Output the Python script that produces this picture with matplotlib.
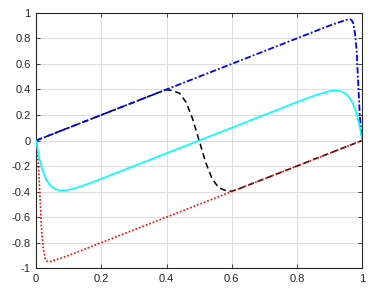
import matplotlib
matplotlib.use('Agg')
import matplotlib.pyplot as plt
from matplotlib.ticker import FuncFormatter

# curve data
blue_x = [0, 0.5, 0.9, 0.94, 0.955, 0.963, 0.968, 0.973, 0.978, 0.983, 0.988, 0.993, 0.997, 1.0]
blue_y = [0, 0.5, 0.9, 0.935, 0.947, 0.95, 0.942, 0.917, 0.84, 0.708, 0.447, 0.186, 0.07, 0]

red_x = [0, 0.003, 0.007, 0.012, 0.017, 0.022, 0.027, 0.032, 0.037, 0.045, 0.06, 0.1, 0.5, 1.0]
red_y = [0, -0.07, -0.186, -0.447, -0.708, -0.84, -0.917, -0.942, -0.95, -0.947, -0.935, -0.9, -0.5, 0]

black_x = [0, 0.38, 0.40, 0.42, 0.44, 0.46, 0.48, 0.5, 0.52, 0.54, 0.56, 0.58, 0.60, 0.62, 1.0]
black_y = [0, 0.38, 0.398, 0.39, 0.37, 0.30, 0.17, 0, -0.17, -0.30, -0.37, -0.39, -0.398, -0.38, 0]

cyan_x = [0, 0.005, 0.01, 0.02, 0.03, 0.04, 0.05, 0.06, 0.07, 0.08, 0.09, 0.10, 0.12, 0.14, 0.17,
          0.2, 0.5, 0.8, 0.83, 0.86, 0.88, 0.90, 0.91, 0.92, 0.93, 0.94, 0.95, 0.96, 0.97, 0.98,
          0.99, 0.995, 1.0]
cyan_y = [0, -0.077, -0.140, -0.235, -0.299, -0.340, -0.366, -0.381, -0.389, -0.391, -0.390, -0.386,
          -0.373, -0.357, -0.329, -0.300, 0, 0.300, 0.329, 0.357, 0.373, 0.386, 0.390, 0.391, 0.389,
          0.381, 0.366, 0.340, 0.299, 0.235, 0.140, 0.077, 0]

x_ticks = [0, 0.2, 0.4, 0.6, 0.8, 1]
y_ticks = [-1, -0.8, -0.6, -0.4, -0.2, 0, 0.2, 0.4, 0.6, 0.8, 1]

plt.rcParams['font.family'] = ['Liberation Sans', 'DejaVu Sans']
plt.rcParams['axes.unicode_minus'] = False

fig = plt.figure(figsize=(3.8, 2.98), dpi=100)
ax = fig.add_axes([0.095, 0.1, 0.858, 0.857])

ax.plot(black_x, black_y, color='black', linestyle=(0, (4, 2.5)), linewidth=1.1, zorder=2)
ax.plot(blue_x, blue_y, color='blue', linestyle=(0, (3.5, 1.2, 1, 1.2)), linewidth=1.3, zorder=3)
ax.plot(red_x, red_y, color='red', linestyle=(0, (1, 1.2)), linewidth=1.2, zorder=3)
ax.plot(cyan_x, cyan_y, color='cyan', linestyle='-', linewidth=1.2, zorder=4)

ax.set_xlim(0, 1)
ax.set_ylim(-1, 1)
ax.set_xticks(x_ticks)
ax.set_yticks(y_ticks)
fmt = FuncFormatter(lambda v, p: '%g' % v)
ax.xaxis.set_major_formatter(fmt)
ax.yaxis.set_major_formatter(fmt)

ax.grid(True, color='#dedede', linewidth=0.8)
ax.set_axisbelow(True)
ax.tick_params(direction='in', length=3, width=0.6, top=True, right=True,
               labelsize=8, colors='#262626', pad=4)
for s in ax.spines.values():
    s.set_color('#262626')
    s.set_linewidth(0.8)

fig.savefig('out.png', dpi=100)
